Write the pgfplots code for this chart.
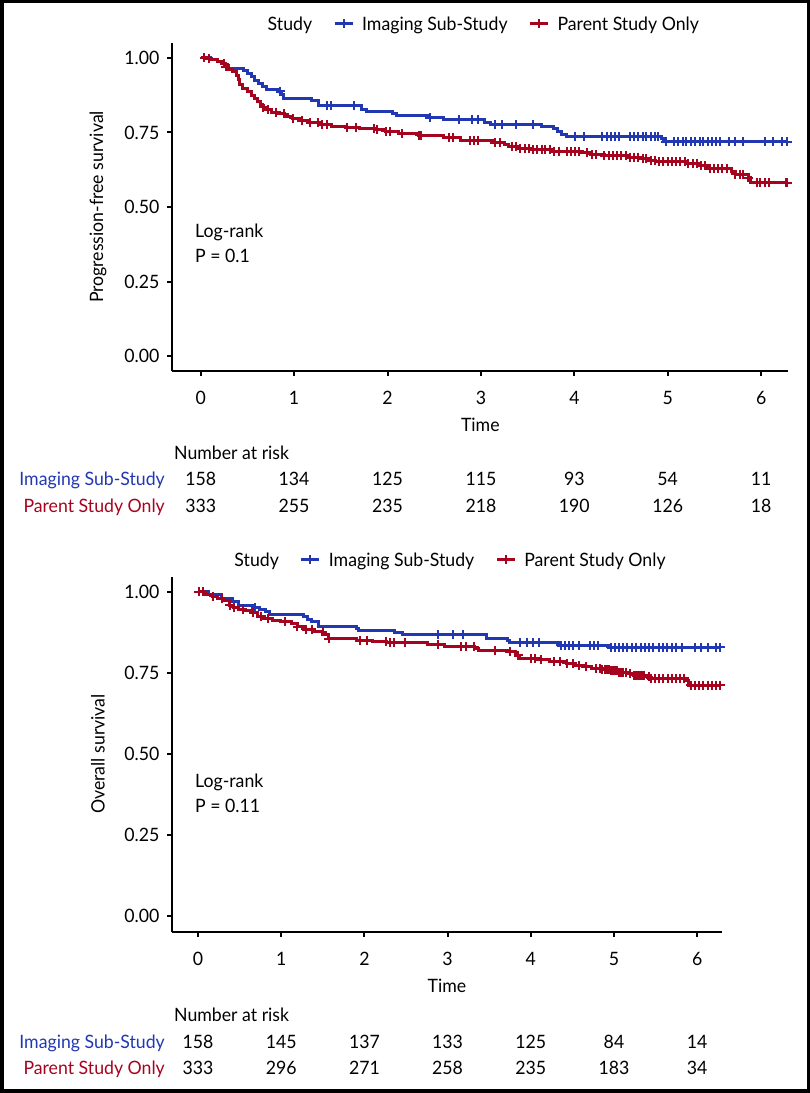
\documentclass[border=0pt]{standalone}
\usepackage{fontspec}
\setmainfont{Lato}[FakeStretch=0.96]
\usepackage{pgfplots}
\pgfplotsset{compat=1.18}
\definecolor{cblue}{RGB}{33,56,178}
\definecolor{cred}{RGB}{166,3,30}
\newcommand{\fs}{\fontsize{18.5}{21}\selectfont}
\pgfplotsset{km/.style={
  scale only axis, axis lines=left, axis line style={-, line width=2.2bp, black},
  tick align=outside, major tick length=5bp, tick style={line width=2bp, black},
  xtick={0,1,2,3,4,5,6}, xticklabels={0,1,2,3,4,5,6},
  ytick={0,0.25,0.5,0.75,1}, yticklabels={0.00,0.25,0.50,0.75,1.00},
  tick label style={font=\fs, black},
  xticklabel style={yshift=-12bp},
  yticklabel style={xshift=-4.5bp},
  clip=false,
  legend columns=-1,
  legend style={draw=none, fill=none, font=\fs, inner sep=0pt,
    /tikz/every odd column/.append style={column sep=6bp},
    /tikz/every even column/.append style={column sep=19bp}},
  legend image code/.code={\draw[##1, mark repeat=2, mark phase=2] plot coordinates {(0bp,0bp)(9bp,0bp)(18bp,0bp)};},
},
kmb/.style={cblue, line width=3bp, const plot, forget plot},
kmr/.style={cred, line width=3bp, const plot, forget plot},
cb/.style={cblue, only marks, mark=+, mark size=4.5bp, mark options={line width=2bp}, forget plot},
cr/.style={cred, only marks, mark=+, mark size=4.5bp, mark options={line width=2bp}, forget plot},
lb/.style={cblue, line width=3bp, mark=+, mark size=4.5bp, mark options={line width=2bp}},
lr/.style={cred, line width=3bp, mark=+, mark size=4.5bp, mark options={line width=2bp}},
}
\tikzset{t/.style={font=\fs, inner sep=0pt}}
\begin{document}
\begin{tikzpicture}[x=1bp,y=1bp]
\useasboundingbox (0,0) rectangle (810,1093);
\draw[line width=3.5bp] (1.75,1.75) rectangle (808.25,1091.25);

% ---------------- Top: PFS ----------------
\begin{axis}[km, at={(172.3bp,722bp)}, anchor=south west, width=616bp, height=328.3bp,
  xmin=-0.304, xmax=6.29, ymin=-0.05, ymax=1.051,
  legend style={at={(0.5,1.057)}, anchor=center}]
\addlegendimage{empty legend}\addlegendentry{Study}
\addlegendimage{lb}\addlegendentry{Imaging Sub-Study}
\addlegendimage{lr}\addlegendentry{Parent Study Only}
\addplot[kmb] coordinates {(0,1)(0.10,0.994)(0.18,0.988)(0.24,0.981)(0.27,0.975)(0.30,0.965)(0.46,0.958)(0.50,0.948)(0.54,0.936)(0.58,0.923)(0.62,0.913)(0.66,0.904)(0.70,0.895)(0.82,0.888)(0.86,0.876)(0.89,0.863)(1.19,0.857)(1.26,0.839)(1.72,0.826)(1.78,0.820)(2.05,0.813)(2.10,0.806)(2.44,0.800)(2.60,0.793)(3.04,0.783)(3.10,0.776)(3.65,0.770)(3.78,0.763)(3.82,0.753)(3.86,0.743)(3.92,0.736)(4.93,0.728)(4.95,0.719)(6.29,0.719)};
\addplot[cb] coordinates {(0.85,0.888)(1.35,0.839)(1.39,0.839)(1.64,0.839)(2.45,0.800)(2.77,0.793)(2.90,0.793)(2.97,0.793)(3.15,0.776)(3.22,0.776)(3.38,0.776)(3.56,0.776)(4.01,0.736)(4.10,0.736)(4.30,0.736)(4.35,0.736)(4.39,0.736)(4.44,0.736)(4.48,0.736)(4.59,0.736)(4.64,0.736)(4.68,0.736)(4.73,0.736)(4.77,0.736)(4.82,0.736)(4.86,0.736)(4.90,0.736)(4.98,0.719)(5.07,0.719)(5.11,0.719)(5.16,0.719)(5.20,0.719)(5.25,0.719)(5.29,0.719)(5.34,0.719)(5.38,0.719)(5.43,0.719)(5.47,0.719)(5.52,0.719)(5.56,0.719)(5.65,0.719)(5.72,0.719)(5.81,0.719)(6.04,0.719)(6.13,0.719)(6.22,0.719)(6.28,0.719)};
\addplot[kmr] coordinates {(0,1)(0.05,0.997)(0.12,0.993)(0.18,0.988)(0.22,0.980)(0.26,0.971)(0.30,0.962)(0.34,0.953)(0.38,0.940)(0.40,0.926)(0.42,0.912)(0.45,0.898)(0.50,0.886)(0.54,0.875)(0.58,0.864)(0.61,0.853)(0.64,0.842)(0.67,0.834)(0.71,0.826)(0.76,0.818)(0.82,0.812)(0.90,0.803)(0.98,0.797)(1.06,0.789)(1.15,0.782)(1.28,0.776)(1.40,0.771)(1.55,0.767)(1.70,0.764)(1.88,0.759)(1.98,0.754)(2.12,0.746)(2.33,0.740)(2.60,0.732)(2.78,0.724)(3.12,0.716)(3.25,0.708)(3.30,0.702)(3.40,0.697)(3.52,0.692)(3.75,0.687)(4.08,0.682)(4.17,0.676)(4.32,0.672)(4.58,0.667)(4.70,0.661)(4.80,0.655)(4.87,0.651)(5.20,0.646)(5.32,0.638)(5.42,0.628)(5.68,0.618)(5.72,0.610)(5.86,0.598)(5.88,0.582)(6.29,0.582)};
\addplot[cr] coordinates {(0.04,1.0)(0.09,0.997)(0.25,0.980)(0.27,0.971)(0.67,0.834)(0.72,0.826)(0.81,0.818)(0.895,0.812)(0.99,0.797)(1.08,0.789)(1.17,0.782)(1.26,0.782)(1.30,0.776)(1.35,0.776)(1.57,0.767)(1.66,0.767)(1.85,0.764)(1.89,0.759)(1.98,0.754)(2.03,0.754)(2.16,0.746)(2.34,0.740)(2.36,0.740)(2.66,0.732)(2.70,0.732)(2.88,0.724)(2.93,0.724)(2.97,0.724)(3.15,0.716)(3.20,0.716)(3.33,0.702)(3.38,0.702)(3.42,0.697)(3.47,0.697)(3.51,0.697)(3.56,0.692)(3.60,0.692)(3.65,0.692)(3.69,0.692)(3.74,0.692)(3.78,0.687)(3.83,0.687)(3.92,0.687)(3.96,0.687)(4.01,0.687)(4.05,0.687)(4.14,0.682)(4.19,0.676)(4.23,0.676)(4.32,0.672)(4.37,0.672)(4.41,0.672)(4.46,0.672)(4.50,0.672)(4.55,0.672)(4.59,0.667)(4.64,0.667)(4.68,0.667)(4.73,0.661)(4.77,0.661)(4.82,0.655)(4.86,0.655)(4.91,0.651)(4.95,0.651)(5.00,0.651)(5.04,0.651)(5.09,0.651)(5.13,0.651)(5.18,0.651)(5.22,0.646)(5.27,0.646)(5.31,0.646)(5.36,0.638)(5.40,0.638)(5.45,0.628)(5.49,0.628)(5.54,0.628)(5.58,0.628)(5.63,0.628)(5.72,0.610)(5.77,0.610)(5.81,0.610)(5.86,0.598)(5.95,0.582)(5.99,0.582)(6.04,0.582)(6.08,0.582)(6.26,0.582)(6.28,0.582)};
\end{axis}

% top texts
\node[t, rotate=90] at (98bp,886bp) {Progression-free survival};
\node[t, anchor=base west] at (195bp,855.5bp) {Log-rank};
\node[t, anchor=base west] at (195bp,830.5bp) {P = 0.1};
\node[t] at (480.3bp,668bp) {Time};
\node[t, anchor=base west] at (174bp,633.5bp) {Number at risk};
\node[t, anchor=base east, text=cblue] at (165bp,607.5bp) {Imaging Sub-Study};
\node[t, anchor=base east, text=cred] at (165bp,580.5bp) {Parent Study Only};
\foreach \v [count=\k from 0] in {158,134,125,115,93,54,11}
  \node[t, anchor=base] at ({(200.7+93.4*\k)*1bp},607.5bp) {\v};
\foreach \v [count=\k from 0] in {333,255,235,218,190,126,18}
  \node[t, anchor=base] at ({(200.7+93.4*\k)*1bp},580.5bp) {\v};

% ---------------- Bottom: OS ----------------
\begin{axis}[km, at={(172.3bp,161bp)}, anchor=south west, width=549.4bp, height=355.3bp,
  xmin=-0.309, xmax=6.295, ymin=-0.05, ymax=1.047,
  legend style={at={(0.5,1.047)}, anchor=center}]
\addlegendimage{empty legend}\addlegendentry{Study}
\addlegendimage{lb}\addlegendentry{Imaging Sub-Study}
\addlegendimage{lr}\addlegendentry{Parent Study Only}
\addplot[kmb] coordinates {(0,1)(0.13,0.992)(0.28,0.980)(0.41,0.969)(0.49,0.959)(0.66,0.952)(0.74,0.946)(0.81,0.938)(0.86,0.931)(1.27,0.923)(1.32,0.915)(1.37,0.908)(1.45,0.894)(1.90,0.887)(1.93,0.882)(2.36,0.874)(2.46,0.867)(3.47,0.856)(3.72,0.849)(3.75,0.843)(4.33,0.836)(4.94,0.829)(6.29,0.829)};
\addplot[cb] coordinates {(0.69,0.952)(2.89,0.867)(3.07,0.867)(3.19,0.867)(3.87,0.843)(3.95,0.843)(4.03,0.843)(4.10,0.843)(4.36,0.836)(4.41,0.836)(4.46,0.836)(4.51,0.836)(4.58,0.836)(4.71,0.836)(4.76,0.836)(4.81,0.836)(4.96,0.829)(5.01,0.829)(5.06,0.829)(5.11,0.829)(5.16,0.829)(5.22,0.829)(5.27,0.829)(5.32,0.829)(5.37,0.829)(5.42,0.829)(5.47,0.829)(5.54,0.829)(5.59,0.829)(5.64,0.829)(5.70,0.829)(5.75,0.829)(5.82,0.829)(5.97,0.829)(6.05,0.829)(6.13,0.829)(6.23,0.829)(6.28,0.829)};
\addplot[kmr] coordinates {(0,1)(0.08,0.993)(0.18,0.987)(0.23,0.980)(0.31,0.973)(0.38,0.959)(0.43,0.952)(0.49,0.946)(0.56,0.942)(0.64,0.936)(0.71,0.925)(0.79,0.918)(0.89,0.913)(0.99,0.908)(1.12,0.901)(1.19,0.892)(1.27,0.884)(1.40,0.877)(1.50,0.867)(1.57,0.856)(1.90,0.851)(2.10,0.846)(2.26,0.843)(2.76,0.839)(2.96,0.830)(3.32,0.825)(3.37,0.820)(3.72,0.815)(3.82,0.805)(3.87,0.795)(4.08,0.792)(4.23,0.784)(4.43,0.779)(4.53,0.774)(4.63,0.769)(4.73,0.764)(4.84,0.761)(4.94,0.756)(5.04,0.752)(5.16,0.748)(5.24,0.743)(5.37,0.738)(5.42,0.733)(5.87,0.728)(5.90,0.712)(6.29,0.712)};
\addplot[cr] coordinates {(0.01,1.0)(0.055,1.0)(0.182,0.987)(0.283,0.980)(0.384,0.959)(0.435,0.952)(0.536,0.946)(0.662,0.936)(0.763,0.925)(0.839,0.918)(1.042,0.908)(1.193,0.892)(1.294,0.884)(1.370,0.884)(1.497,0.877)(1.573,0.856)(1.952,0.851)(2.028,0.851)(2.255,0.846)(2.306,0.843)(2.357,0.843)(2.483,0.843)(2.888,0.839)(3.166,0.830)(3.217,0.830)(3.318,0.830)(3.571,0.820)(3.748,0.815)(3.849,0.805)(4.000,0.795)(4.051,0.795)(4.127,0.792)(4.279,0.784)(4.355,0.784)(4.430,0.779)(4.506,0.779)(4.582,0.774)(4.658,0.769)(4.784,0.764)(4.835,0.764)(4.860,0.761)(4.886,0.761)(4.911,0.761)(4.936,0.761)(4.962,0.756)(4.987,0.756)(5.012,0.756)(5.037,0.756)(5.063,0.752)(5.088,0.752)(5.113,0.752)(5.139,0.752)(5.189,0.748)(5.240,0.743)(5.265,0.743)(5.290,0.743)(5.316,0.743)(5.341,0.743)(5.366,0.743)(5.417,0.738)(5.442,0.733)(5.492,0.733)(5.543,0.733)(5.594,0.733)(5.644,0.733)(5.695,0.733)(5.745,0.733)(5.796,0.733)(5.847,0.733)(5.923,0.712)(5.973,0.712)(6.024,0.712)(6.074,0.712)(6.125,0.712)(6.175,0.712)(6.226,0.712)(6.276,0.712)};
\end{axis}

% bottom texts
\node[t, rotate=90] at (98bp,339bp) {Overall survival};
\node[t, anchor=base west] at (195bp,305.5bp) {Log-rank};
\node[t, anchor=base west] at (195bp,280.5bp) {P = 0.11};
\node[t] at (447bp,107bp) {Time};
\node[t, anchor=base west] at (174bp,71.5bp) {Number at risk};
\node[t, anchor=base east, text=cblue] at (165bp,44.5bp) {Imaging Sub-Study};
\node[t, anchor=base east, text=cred] at (165bp,18.5bp) {Parent Study Only};
\foreach \v [count=\k from 0] in {158,145,137,133,125,84,14}
  \node[t, anchor=base] at ({(198+83.2*\k)*1bp},44.5bp) {\v};
\foreach \v [count=\k from 0] in {333,296,271,258,235,183,34}
  \node[t, anchor=base] at ({(198+83.2*\k)*1bp},18.5bp) {\v};
\end{tikzpicture}
\end{document}
